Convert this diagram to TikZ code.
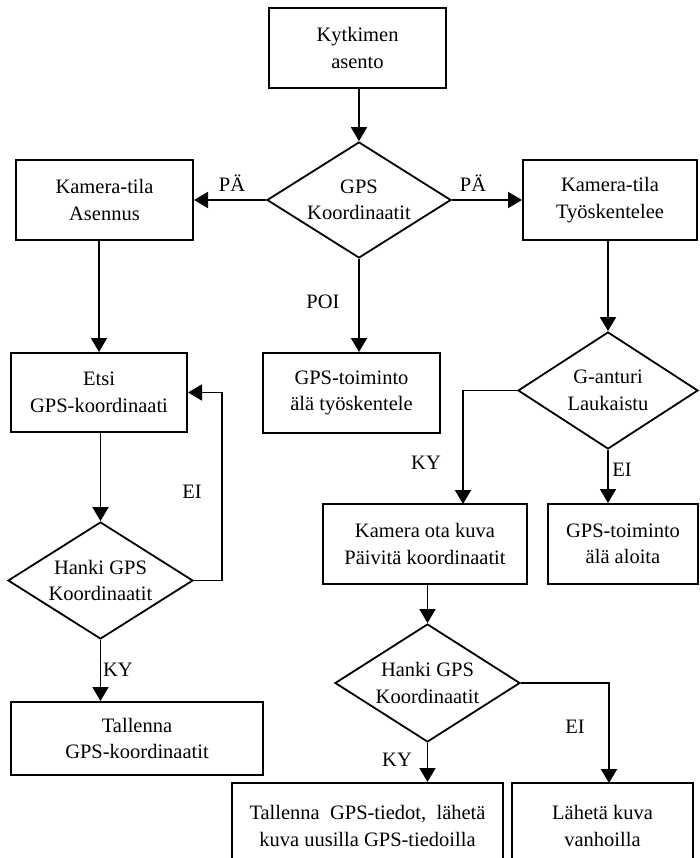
\documentclass[tikz,border=0pt]{standalone}
\usepackage{fontspec}
\setmainfont{Liberation Serif}
\usetikzlibrary{shapes.geometric,arrows.meta}
\begin{document}
\begin{tikzpicture}[x=1pt,y=-1pt,
  every node/.style={font=\fontsize{20.5}{26.5}\selectfont},
  box/.style={draw, line width=2pt, align=center, inner sep=0pt},
  dia/.style={draw, diamond, line width=1.8pt, inner sep=0pt},
  txt/.style={align=center, inner sep=0pt},
  lbl/.style={inner sep=0pt},
  arr/.style={line width=1.8pt, -{Triangle[length=14pt,width=16pt]}}]
\useasboundingbox (0,0) rectangle (699,858);

% nodes
\node[box, minimum width=177pt, minimum height=80pt] (top) at (357.5,48) {Kytkimen\\asento};
\node[dia, minimum width=184pt, minimum height=116pt] (gps) at (359,200) {};
\node[txt] at (gps) {GPS\\Koordinaatit};
\node[box, minimum width=177pt, minimum height=80pt] (kA) at (104.5,200) {Kamera-tila\\Asennus};
\node[box, minimum width=174pt, minimum height=80pt] (kT) at (610,200) {Kamera-tila\\Työskentelee};
\node[box, minimum width=176pt, minimum height=79pt] (etsi) at (99,392.5) {Etsi\\GPS-koordinaati};
\node[box, minimum width=177pt, minimum height=80pt] (f1) at (351.5,393) {GPS-toiminto\\älä työskentele};
\node[dia, minimum width=185pt, minimum height=117pt] (h1) at (100.5,580.5) {};
\node[txt] at (h1) {Hanki GPS\\Koordinaatit};
\node[box, minimum width=252pt, minimum height=73pt] (t1) at (137,738.5) {Tallenna\\GPS-koordinaatit};
\node[dia, minimum width=180pt, minimum height=117pt] (ga) at (608,390.5) {};
\node[txt] at (ga) {G-anturi\\Laukaistu};
\node[box, minimum width=204pt, minimum height=80pt] (kam) at (425,544) {Kamera ota kuva\\Päivitä koordinaatit};
\node[box, minimum width=150pt, minimum height=80pt] (alo) at (623,544) {GPS-toiminto\\älä aloita};
\node[dia, minimum width=185pt, minimum height=118pt] (h2) at (427.5,683) {};
\node[txt] at (h2) {Hanki GPS\\Koordinaatit};
\node[box, minimum width=271pt, minimum height=86pt] (t2) at (367.5,826) {Tallenna\ \ GPS-tiedot,\ \ lähetä\\kuva uusilla GPS-tiedoilla};
\node[box, minimum width=181pt, minimum height=86pt] (lah) at (602.5,826) {Lähetä kuva\\vanhoilla};

\coordinate (kin) at (463,504);
\coordinate (lin) at (609,783);

% connectors
\draw[arr] (top.south -| gps.north) -- (gps.north);
\draw[arr] (gps.west) -- (kA.east);
\draw[arr] (gps.east) -- (kT.west);
\draw[arr] (gps.south) -- (gps.south |- f1.north);
\draw[arr] (kA.south -| etsi.north) -- (etsi.north);
\draw[arr] (etsi.south -| h1.north) -- (h1.north);
\draw[arr] (h1.east) -- ++(28,0) |- (etsi.east);
\draw[arr] (h1.south) -- (h1.south |- t1.north);
\draw[arr] (kT.south -| ga.north) -- (ga.north);
\draw[arr] (ga.west) -| (kin);
\draw[arr] (ga.south) -- (ga.south |- alo.north);
\draw[arr] (kam.south -| h2.north) -- (h2.north);
\draw[arr] (h2.south) -- (h2.south |- t2.north);
\draw[arr] (h2.east) -| (lin);

% labels
\node[lbl] at (232,183) {PÄ};
\node[lbl] at (473,183) {PÄ};
\node[lbl] at (323,302) {POI};
\node[lbl] at (192,492) {EI};
\node[lbl] at (118,670) {KY};
\node[lbl] at (426,463) {KY};
\node[lbl] at (622,470) {EI};
\node[lbl] at (397,760) {KY};
\node[lbl] at (575,727) {EI};
\end{tikzpicture}
\end{document}
